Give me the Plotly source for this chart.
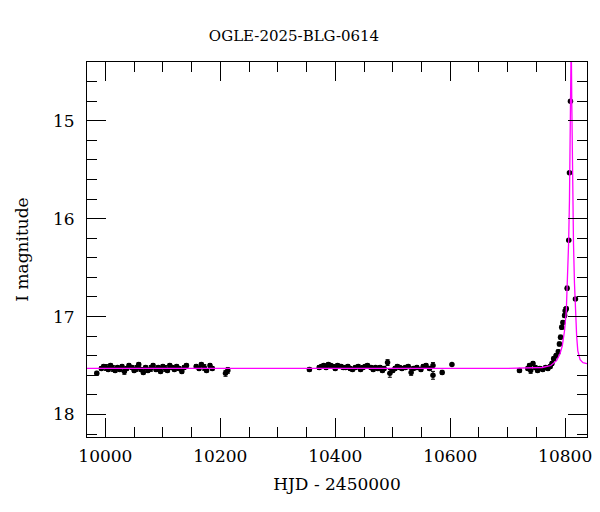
import plotly.graph_objects as go

FONT = "DejaVu Serif"

# season 1 (HJD - 2450000, I mag, error)
s1_t = [9985, 9993, 9997, 10001, 10005, 10009, 10013, 10017, 10021, 10025,
        10029, 10033, 10037, 10041, 10046, 10050, 10054, 10058, 10062, 10066,
        10070, 10074, 10079, 10083, 10088, 10092, 10096, 10100, 10104, 10108,
        10112, 10116, 10120, 10124, 10128, 10133, 10137, 10141, 10158, 10163,
        10167, 10172, 10176, 10182, 10186, 10209, 10213]
s1_m = [17.58, 17.53, 17.51, 17.52, 17.54, 17.50, 17.53, 17.55, 17.52, 17.54,
        17.51, 17.56, 17.53, 17.50, 17.52, 17.55, 17.53, 17.49, 17.54, 17.57,
        17.52, 17.55, 17.53, 17.50, 17.54, 17.52, 17.56, 17.51, 17.53, 17.55,
        17.50, 17.52, 17.54, 17.51, 17.53, 17.56, 17.52, 17.50, 17.51, 17.53,
        17.49, 17.52, 17.55, 17.50, 17.53, 17.58, 17.55]
s1_e = [0.02, 0.02, 0.02, 0.03, 0.02, 0.02, 0.03, 0.02, 0.02, 0.02,
        0.02, 0.03, 0.02, 0.02, 0.02, 0.02, 0.03, 0.02, 0.02, 0.02,
        0.02, 0.02, 0.03, 0.02, 0.02, 0.02, 0.02, 0.02, 0.03, 0.02,
        0.02, 0.02, 0.02, 0.02, 0.02, 0.02, 0.02, 0.02, 0.02, 0.02,
        0.02, 0.03, 0.02, 0.02, 0.02, 0.03, 0.03]

# season 2
s2_t = [10355, 10372, 10376, 10380, 10384, 10388, 10392, 10396, 10400, 10404,
        10410, 10414, 10418, 10422, 10426, 10430, 10435, 10440, 10444, 10448,
        10452, 10456, 10462, 10466, 10470, 10474, 10478, 10482, 10485, 10491,
        10495, 10500, 10504, 10508, 10512, 10516, 10522, 10527, 10532, 10536,
        10542, 10549, 10553, 10558, 10564, 10570, 10570, 10586, 10603]
s2_m = [17.54, 17.52, 17.51, 17.50, 17.52, 17.49, 17.50, 17.51, 17.53, 17.50,
        17.51, 17.52, 17.52, 17.51, 17.53, 17.54, 17.52, 17.51, 17.54, 17.52,
        17.51, 17.50, 17.52, 17.54, 17.52, 17.53, 17.52, 17.55, 17.53, 17.47,
        17.58, 17.55, 17.53, 17.51, 17.52, 17.53, 17.52, 17.51, 17.57, 17.53,
        17.52, 17.54, 17.51, 17.50, 17.53, 17.50, 17.60, 17.57, 17.49]
s2_e = [0.02, 0.02, 0.02, 0.02, 0.02, 0.02, 0.02, 0.02, 0.02, 0.02,
        0.02, 0.02, 0.02, 0.02, 0.02, 0.02, 0.02, 0.02, 0.02, 0.02,
        0.02, 0.02, 0.02, 0.02, 0.02, 0.02, 0.02, 0.02, 0.02, 0.03,
        0.04, 0.02, 0.02, 0.02, 0.02, 0.02, 0.02, 0.02, 0.03, 0.02,
        0.02, 0.02, 0.02, 0.02, 0.02, 0.03, 0.04, 0.02, 0.01]

# season 3 (event)
s3_t = [10720.5, 10735, 10738, 10740, 10744, 10748, 10752, 10756, 10761, 10766,
        10770, 10774, 10777, 10780, 10784, 10788, 10790, 10792, 10794, 10796,
        10799, 10800, 10802, 10803.4, 10806.3, 10807.5, 10809.2, 10817.9]
s3_m = [17.55, 17.53, 17.50, 17.55, 17.48, 17.52, 17.55, 17.53, 17.54, 17.52,
        17.53, 17.51, 17.48, 17.43, 17.40, 17.36, 17.28, 17.21, 17.11, 17.06,
        16.99, 16.94, 16.92, 16.71, 16.22, 15.53, 14.80, 16.82]
s3_e = [0.02, 0.02, 0.02, 0.03, 0.02, 0.02, 0.02, 0.02, 0.02, 0.02,
        0.02, 0.02, 0.02, 0.02, 0.02, 0.02, 0.02, 0.02, 0.02, 0.02,
        0.02, 0.03, 0.02, 0.02, 0.01, 0.01, 0.01, 0.01]

# model light curve
model_t = [9968, 10700, 10760, 10775, 10785, 10791, 10795, 10799, 10802, 10804.5,
           10806, 10807.5, 10809.2, 10810.5, 10811.6, 10812.7, 10814.5, 10816.2,
           10818, 10820, 10822, 10826, 10831, 10838]
model_m = [17.53, 17.53, 17.52, 17.50, 17.45, 17.38, 17.30, 17.14, 16.94, 16.59,
           16.25, 15.81, 14.96, 14.15, 14.85, 15.64, 16.25, 16.66,
           17.00, 17.20, 17.35, 17.44, 17.47, 17.48]

fig = go.Figure()
for t, m, e in [(s1_t, s1_m, s1_e), (s2_t, s2_m, s2_e), (s3_t, s3_m, s3_e)]:
    fig.add_trace(go.Scatter(
        x=t, y=m, mode='markers',
        marker=dict(color='black', size=5.5),
        error_y=dict(type='data', array=e, color='black', thickness=1, width=2),
        showlegend=False,
    ))
fig.add_trace(go.Scatter(
    x=model_t, y=model_m, mode='lines',
    line=dict(color='#ff00ff', width=1.3),
    showlegend=False,
))

axis_common = dict(
    showline=True, linecolor='black', linewidth=1, mirror='allticks',
    ticks='inside', ticklen=19, tickwidth=1, tickcolor='black',
    showgrid=False, zeroline=False, automargin=False,
    tickfont=dict(family=FONT, size=17, color='black'),
)
fig.update_xaxes(
    range=[9968, 10838], dtick=200, tick0=10000, tickformat='d',
    minor=dict(ticks='inside', ticklen=10, dtick=50, tick0=10000,
               tickcolor='black', showgrid=False),
    title=dict(text='HJD - 2450000', font=dict(family=FONT, size=17, color='black'), standoff=12),
    ticklabelstandoff=4,
    **axis_common,
)
fig.update_yaxes(
    range=[18.23, 14.40], dtick=1, tick0=15,
    minor=dict(ticks='inside', ticklen=10, dtick=0.2, tick0=15,
               tickcolor='black', showgrid=False),
    title=dict(text='I magnitude', font=dict(family=FONT, size=17, color='black'), standoff=20),
    ticklabelstandoff=8,
    **axis_common,
)
fig.update_layout(
    width=600, height=512,
    margin=dict(l=87, r=13, t=62, b=75, autoexpand=False),
    plot_bgcolor='white', paper_bgcolor='white',
    title=dict(text='OGLE-2025-BLG-0614', x=0.49, xref='container', xanchor='center',
               y=1 - 36 / 512, yref='container', yanchor='middle', automargin=False,
               font=dict(family=FONT, size=15, color='black')),
    font=dict(family=FONT),
)

# page body has a default margin; drop it so the figure sits at the window corner
fig.write_html("out.html", config={'displayModeBar': False},
               post_script="document.body.style.margin='0';")
